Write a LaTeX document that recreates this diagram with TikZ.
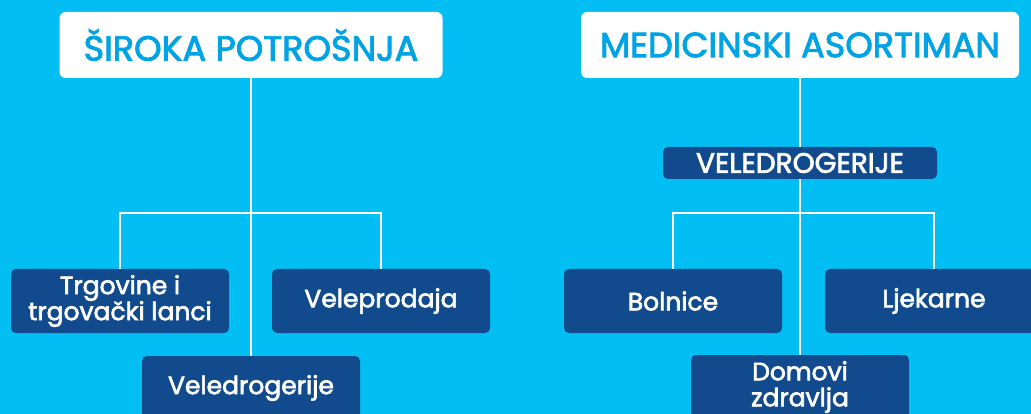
\documentclass[tikz,border=0pt]{standalone}
\usepackage{fontspec}
\setmainfont{Poppins}
\newfontfamily\medfont{Poppins}[FakeBold=2.5]
\definecolor{skyblue}{HTML}{02BEF2}
\definecolor{titleblue}{HTML}{00A3E4}
\definecolor{navyblue}{HTML}{124B8D}
\begin{document}
\begin{tikzpicture}[x=1pt, y=-1pt,
    titlebox/.style={fill=white, rounded corners=6pt, text=titleblue, inner sep=0pt,
      minimum height=66pt, font=\medfont\fontsize{35}{36}\selectfont},
    darkbox/.style={fill=navyblue, rounded corners=5pt, text=white, inner sep=0pt,
      minimum width=218pt, minimum height=64pt, align=center,
      font=\medfont\fontsize{25}{26}\selectfont},
    link/.style={draw=white, line width=1.3pt}]
      \clip (0,0) rectangle (1031,414);
      \fill[skyblue] (0,0) rectangle (1031,414);

      \node[titlebox, minimum width=383pt] (S) at (251,45)  {ŠIROKA POTROŠNJA};
      \node[titlebox, minimum width=438pt] (M) at (800,45)  {MEDICINSKI ASORTIMAN};

      \node[darkbox] (T) at (120,301)   {Trgovine i\\trgovački lanci};
      \node[darkbox] (P) at (381,301)   {Veleprodaja};
      \node[darkbox] (V) at (251,388)   {Veledrogerije};

      \node[darkbox, minimum width=274pt, minimum height=32pt,
            font=\medfont\fontsize{28}{28}\selectfont] (W) at (800,163) {VELEDROGERIJE};
      \node[darkbox] (B) at (673,301)   {Bolnice};
      \node[darkbox] (L) at (934,301)   {Ljekarne};
      \node[darkbox] (D) at (800,387)   {Domovi\\zdravlja};

      \coordinate (SJ) at (251,213);
      \coordinate (MJ) at (800,213);

      \path[link] (S.south) -- (V.north);
      \path[link] (T.north) |- (SJ) -| (P.north);
      \path[link] (M.south) -- (W.north);
      \path[link] (W.south) -- (D.north);
      \path[link] (B.north) |- (MJ) -| (L.north);
\end{tikzpicture}
\end{document}
